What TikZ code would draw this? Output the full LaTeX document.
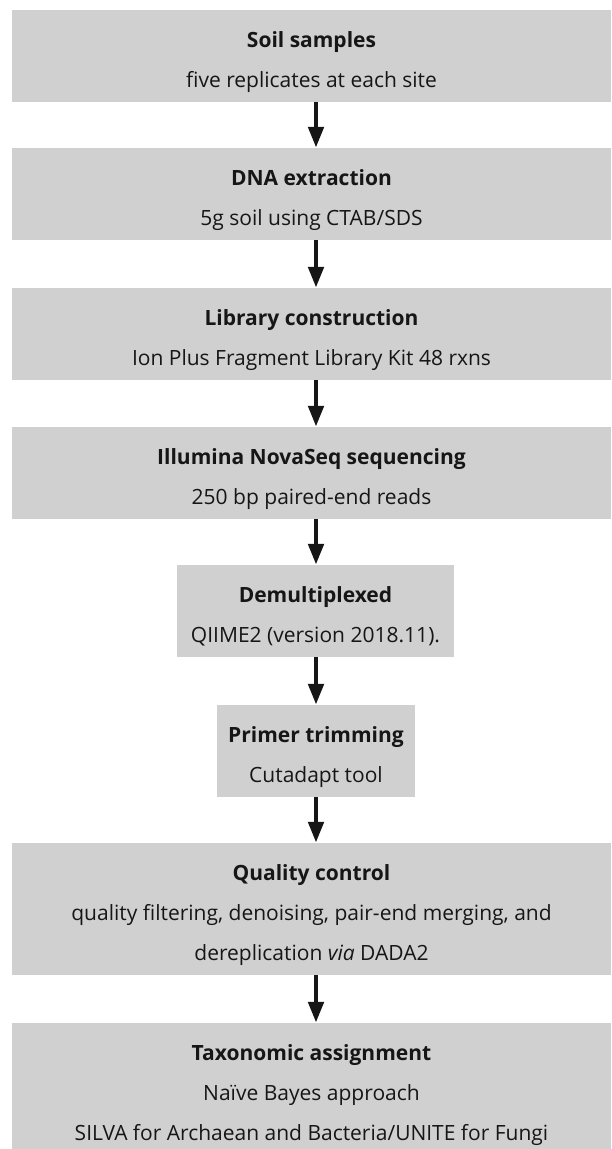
\documentclass[tikz,border=0pt]{standalone}
\usepackage{fontspec}
\setmainfont{Open Sans}
\usetikzlibrary{arrows.meta}
\definecolor{boxgray}{RGB}{208,208,208}
\definecolor{inkblack}{RGB}{22,22,22}
% struts: room above the title, room under the last line
\newcommand{\headline}[1]{\rule{0pt}{37pt}\textbf{#1}}
\newcommand{\footline}[1]{#1\rule[-15pt]{0pt}{15pt}}

\begin{document}
\begin{tikzpicture}[x=1pt,y=1pt,
    stage/.style={fill=boxgray, text=inkblack, align=center, inner xsep=0pt, inner ysep=0pt,
                  font=\fontsize{21}{40}\selectfont},
    wide/.style={stage, minimum width=599pt},
    flow/.style={-{Triangle[length=21pt,width=15pt]}, line width=4.8pt, draw=inkblack}]
				  \useasboundingbox (0,0) rectangle (611,-1149);
				  \clip (0,0) rectangle (611,-1149);
				  \coordinate(axis) at (316,0);
				  
				  \node[wide] (soil) at (311.5,-56) {\headline{Soil samples}\\ \footline{five replicates at each site}};
				  \node[wide] (dna) at (311.5,-194) {\headline{DNA extraction}\\ \footline{5g soil using CTAB/SDS}};
				  \node[wide] (lib) at (311.5,-334) {\headline{Library construction}\\ \footline{Ion Plus Fragment Library Kit 48 rxns}};
				  \node[wide] (seq) at (311.5,-473) {\headline{Illumina NovaSeq sequencing}\\ \footline{250 bp paired-end reads}};
				  \node[stage, minimum width=277pt] (demux) at (315.5,-611) {\headline{Demultiplexed}\\ \footline{QIIME2 (version 2018.11).}};
				  \node[stage, minimum width=198pt] (primer) at (316,-751) {\headline{Primer trimming}\\ \footline{Cutadapt tool}};
				  \node[wide] (qc) at (311.5,-909) {\headline{Quality control}\\ quality filtering, denoising, pair-end merging, and\\ \footline{dereplication \textit{via} DADA2}};
				  \node[wide] (taxo) at (311.5,-1089) {\headline{Taxonomic assignment}\\ Naïve Bayes approach\\ \footline{SILVA for Archaean and Bacteria/UNITE for Fungi}};
				  
				  %arrows down the middle
				  \draw[flow] (soil.south -| axis) -- (dna.north -| axis);
				  \draw[flow] (dna.south -| axis) -- (lib.north -| axis);
				  \draw[flow] (lib.south -| axis) -- (seq.north -| axis);
				  \draw[flow] (seq.south -| axis) -- (demux.north -| axis);
				  \draw[flow] (demux.south -| axis) -- (primer.north -| axis);
				  \draw[flow] (primer.south -| axis) -- (qc.north -| axis);
				  \draw[flow] (qc.south -| axis) -- (taxo.north -| axis);
				  \end{tikzpicture}
\end{document}
